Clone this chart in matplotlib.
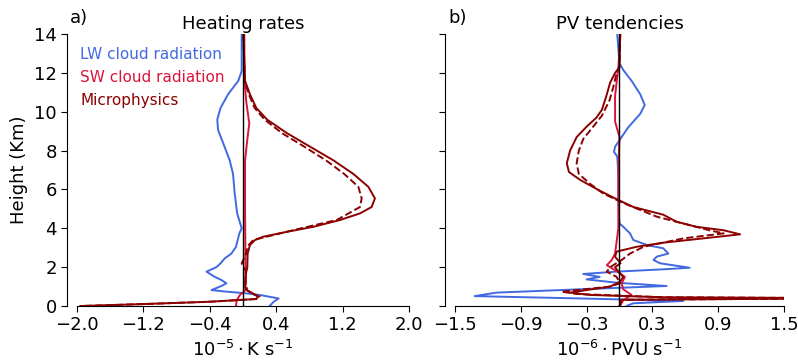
import matplotlib.pyplot as plt
import numpy as np

# ---- heating rates (panel a) ----
hr_lw_h = [14, 12.1, 11.6, 10.9, 10.2, 9.6, 9.06, 8.4, 7.5, 6.8, 5.8, 4.77, 4.0, 3.74, 3.05, 2.7, 2.45,
           2.2, 2.0, 1.77, 1.5, 1.34, 1.17, 1.03, 0.82, 0.74, 0.65, 0.57, 0.39, 0.22, 0.0]
hr_lw = [-0.016, -0.016, -0.056, -0.18, -0.27, -0.31, -0.30, -0.24, -0.16, -0.12, -0.10, -0.07, -0.016, -0.044,
         -0.084, -0.14, -0.22, -0.27, -0.32, -0.44, -0.34, -0.26, -0.20, -0.26, -0.38, -0.20, 0.044, 0.20,
         0.43, 0.37, 0.32]

hr_sw_h = [14, 11.5, 10.5, 9.4, 8.5, 7.5, 5.0, 2.0, 0.8, 0.57, 0.3, 0.0]
hr_sw = [0.016, 0.02, 0.04, 0.076, 0.05, 0.025, 0.025, 0.03, 0.025, -0.036, -0.076, -0.084]

hr_mp_h = [14, 11.6, 10.9, 10.2, 9.6, 8.9, 8.2, 7.5, 6.8, 6.14, 5.54, 5.1, 4.77, 4.43, 4.08, 3.82,
           3.57, 3.4, 3.14, 2.7, 2.0, 1.68, 0.99, 0.82, 0.65, 0.48, 0.36, 0.22, 0.1, 0.0]
hr_mp = [0.004, 0.024, 0.084, 0.16, 0.29, 0.53, 0.81, 1.09, 1.33, 1.51, 1.59, 1.55, 1.41, 1.17, 0.85, 0.53,
         0.245, 0.145, 0.084, 0.056, 0.052, 0.036, 0.028, 0.044, 0.12, 0.18, 0.16, -0.40, -1.2, -1.96]

hr_mp2_h = [14, 11.6, 10.9, 10.2, 9.6, 8.9, 8.2, 7.5, 6.8, 6.14, 5.54, 5.1, 4.43, 3.9, 3.4, 3.1, 2.6,
            2.2, 1.8, 1.3, 0.82, 0.65, 0.48, 0.36, 0.22, 0.1, 0.0]
hr_mp2 = [0.004, 0.02, 0.07, 0.14, 0.26, 0.47, 0.74, 1.0, 1.22, 1.39, 1.43, 1.41, 1.13, 0.6, 0.125, 0.06,
          0.03, -0.016, 0.036, 0.03, 0.05, 0.1, 0.2, 0.16, -0.40, -1.2, -1.96]

# ---- PV tendencies (panel b) ----
pv_lw_h = [14, 12.5, 12.15, 11.6, 10.9, 10.35, 9.9, 9.2, 8.7, 8.2, 7.94, 7.7, 6.8, 5.45, 4.25, 4.08,
           3.74, 3.4, 3.14, 2.97, 2.7, 2.54, 2.37, 2.2, 1.97, 1.89, 1.77, 1.65, 1.5, 1.37, 1.2, 1.03,
           0.86, 0.69, 0.51, 0.39, 0.26, 0.14, 0.0]
pv_lw = [-0.02, 0.0, 0.035, 0.11, 0.19, 0.23, 0.19, 0.08, 0.02, -0.04, -0.05, -0.02, -0.01, -0.01, 0.0,
         0.035, 0.096, 0.126, 0.25, 0.40, 0.445, 0.34, 0.31, 0.37, 0.64, 0.40, -0.026, -0.33, -0.18,
         -0.30, -0.026, 0.43, -0.36, -1.12, -1.32, -0.36, 0.58, 0.126, 0.065]

pv_sw_h = [14, 12.3, 10.8, 9.5, 8.7, 7.0, 4.0, 2.7, 2.37, 2.1, 1.95, 1.68, 1.5, 1.17, 0.86, 0.57, 0.3, 0.0]
pv_sw = [0.01, -0.01, -0.04, -0.04, 0.0, -0.01, -0.01, -0.04, -0.07, -0.115, -0.07, 0.005, 0.05, 0.02,
         0.035, 0.11, 0.035, 0.005]

pv_mp_h = [14, 12.3, 12.0, 11.5, 10.8, 10.1, 9.7, 9.23, 8.7, 8.0, 7.35, 6.9, 6.5, 5.97, 5.54, 5.1,
           4.7, 4.34, 4.08, 3.9, 3.69, 3.48, 3.26, 3.05, 2.8, 2.54, 2.2, 2.0, 1.77, 1.5, 1.25, 1.0,
           0.82, 0.69, 0.57, 0.45, 0.40, 0.32, 0.0]
pv_mp = [0.005, 0.0, -0.04, -0.085, -0.12, -0.16, -0.21, -0.30, -0.39, -0.45, -0.48, -0.46, -0.36,
         -0.19, -0.04, 0.126, 0.40, 0.52, 0.70, 0.95, 1.10, 0.76, 0.40, 0.157, -0.026, -0.04, 0.01,
         -0.04, -0.01, 0.035, 0.005, -0.085, -0.30, -0.45, -0.27, 0.40, 2.2, 0.02, 0.0]

pv_mp2_h = [14, 12.3, 12.0, 11.3, 10.6, 9.8, 9.23, 8.6, 8.0, 7.35, 6.8, 6.3, 5.8, 5.3, 4.6, 3.9, 3.74,
            3.48, 3.05, 2.7, 2.37, 2.0, 1.77, 1.5, 1.17, 1.0, 0.74, 0.62, 0.45, 0.40, 0.32, 0.0]
pv_mp2 = [0.005, 0.0, -0.025, -0.055, -0.09, -0.16, -0.24, -0.33, -0.37, -0.39, -0.37, -0.27, -0.15,
          0.036, 0.34, 0.82, 0.95, 0.58, 0.22, 0.096, 0.02, -0.085, -0.115, -0.026, 0.005, -0.085,
          -0.53, -0.39, 0.40, 2.2, 0.02, 0.0]

labels = ["LW cloud radiation", "SW cloud radiation", "Microphysics"]
colors = ["royalblue", "crimson", "darkred"]

fig = plt.figure(figsize=(7.98, 3.63), dpi=100)
ax1 = fig.add_axes([0.0965, 0.157, 0.416, 0.749])
ax2 = fig.add_axes([0.570, 0.157, 0.4125, 0.749])

panels = [
    (ax1, [(hr_lw, hr_lw_h), (hr_sw, hr_sw_h), (hr_mp, hr_mp_h)], (hr_mp2, hr_mp2_h),
     "Heating rates", "a)", r"$10^{-5} \cdot$K s$^{-1}$", 2.0),
    (ax2, [(pv_lw, pv_lw_h), (pv_sw, pv_sw_h), (pv_mp, pv_mp_h)], (pv_mp2, pv_mp2_h),
     "PV tendencies", "b)", r"$10^{-6} \cdot$PVU s$^{-1}$", 1.5),
]

for ax, curves, dashed, title, tag, xlabel, lim in panels:
    for (x, h), lab, c in zip(curves, labels, colors):
        ax.plot(x, h, color=c, lw=1.4, label=lab)
    ax.plot(dashed[0], dashed[1], color="darkred", lw=1.4, ls="--")
    ax.axvline(0, color="k", lw=1)
    ax.set_xlim(-lim, lim)
    ax.set_ylim(0, 14)
    ax.set_xticks(np.linspace(-lim, lim, 6))
    ax.set_yticks(np.arange(0, 15, 2))
    ax.set_title(title, fontsize=13, pad=4)
    ax.text(-0.02, 1.025, tag, transform=ax.transAxes, fontsize=13, ha="left", va="bottom")
    ax.set_xlabel(xlabel, fontsize=13)
    ax.tick_params(labelsize=13, length=4)
    ax.spines["top"].set_visible(False)
    ax.spines["right"].set_visible(False)
    ax.spines["left"].set_position(("outward", 7))

ax1.set_ylabel("Height (Km)", fontsize=13)
ax2.set_yticklabels([])

leg = ax1.legend(loc="upper left", bbox_to_anchor=(0.0, 0.965), frameon=False, fontsize=11,
                 handlelength=0, handletextpad=0, borderpad=0.2, borderaxespad=0, labelspacing=0.55)
for txt, c in zip(leg.get_texts(), colors):
    txt.set_color(c)
for hnd in leg.legend_handles:
    hnd.set_visible(False)

fig.savefig("out.png", dpi=100)
